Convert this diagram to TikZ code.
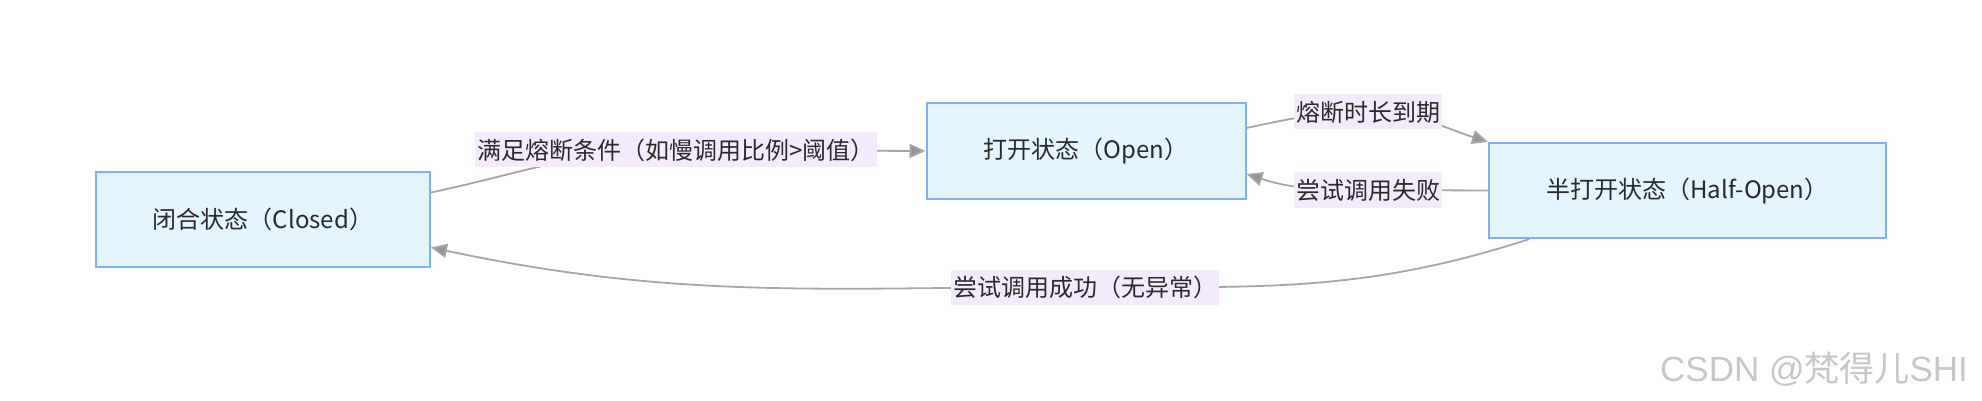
\documentclass[tikz,border=0pt]{standalone}
\usepackage{fontspec}
\setmainfont{Noto Sans CJK SC}
\newfontfamily\wmfont{Liberation Sans}
\usetikzlibrary{arrows.meta,backgrounds}
\definecolor{cbFill}{HTML}{E4F5FE}
\definecolor{cbLine}{HTML}{80AEFF}
\definecolor{cbLabel}{HTML}{F3EBFC}
\definecolor{cbEdge}{HTML}{A6A6A6}
\definecolor{cbText}{HTML}{2A2A2A}

\begin{document}
\begin{tikzpicture}[x=0.5pt, y=0.5pt, font=\fontsize{12}{14}\selectfont, text=cbText,
  state/.style={draw=cbLine, fill=cbFill, line width=1pt, minimum height=47.5pt, inner sep=0pt},
  lbl/.style={fill=cbLabel, inner xsep=1pt, inner ysep=0pt, minimum height=17.5pt},
  edge/.style={draw=cbEdge, line width=0.9pt, -{Triangle[length=8pt, width=7pt, fill=cbEdge!90!black]}}]
  \useasboundingbox (0,0) rectangle (1982,-401);
  % states
  \node[state, minimum width=167pt] (closed) at (263,-219.5) {闭合状态（Closed）};
  \node[state, minimum width=159.5pt] (open) at (1086,-151) {打开状态（Open）};
  \node[state, minimum width=198.5pt] (half) at (1687.5,-190.5) {半打开状态（Half-Open）};
  % transition labels
  \node[lbl] (trip) at (676,-150) {满足熔断条件（如慢调用比例>阈值）};
  \node[lbl] (timeout) at (1368,-112) {熔断时长到期};
  \node[lbl] (fail) at (1368,-190) {尝试调用失败};
  \node[lbl] (ok) at (1085,-287) {尝试调用成功（无异常）};
  \node[anchor=east, text=black!22, font=\fontsize{17.5}{20}\selectfont] (wm) at (1975,-369)
    {{\wmfont CSDN @}梵得儿{\wmfont SHI}};
  % transitions
  \begin{scope}[on background layer]
    \draw[edge] ([yshift=13.5pt]closed.east) to[out=12, in=180] (trip.center) -- (open.west);
    \draw[edge] ([yshift=11.5pt]open.east) to[out=12, in=180] (timeout.center)
      to[out=0, in=162] (half.north west);
    \draw[edge] (half.west) -- (fail.center) to[out=180, in=-18] ([yshift=-11.5pt]open.east);
    \draw[edge] ([xshift=-79pt]half.south) to[out=198, in=0] (ok.center)
      to[out=180, in=-12] ([yshift=-14pt]closed.east);
  \end{scope}
\end{tikzpicture}
\end{document}
